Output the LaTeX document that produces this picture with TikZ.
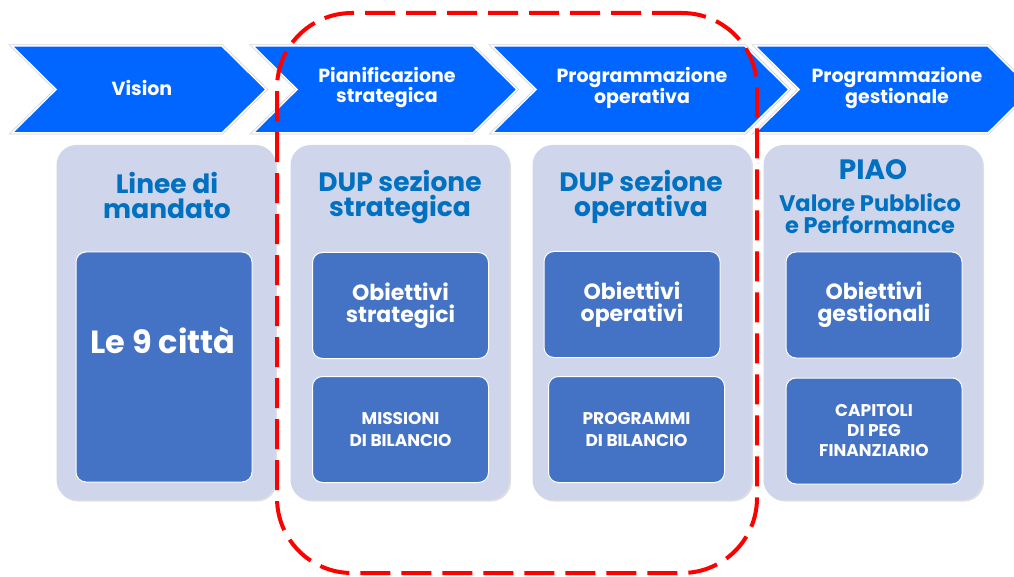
\documentclass[tikz,border=0pt]{standalone}
\usepackage{fontspec}
\setmainfont{Poppins}
\usetikzlibrary{positioning, shadows}
\definecolor{ChevBlue}{RGB}{0,102,255}
\definecolor{CardLilac}{RGB}{207,213,234}
\definecolor{BoxBlue}{RGB}{68,114,196}
\definecolor{TitleBlue}{RGB}{0,112,192}
\definecolor{FrameRed}{RGB}{255,0,0}

\begin{document}
\begin{tikzpicture}[
          x=1pt, y=-1pt,
          chevron/.style={fill=ChevBlue, draw=white, line width=1.5pt, preaction={draw=black!18, line width=3pt}},
          chevtext/.style={text=white, align=center, font=\fontsize{19}{20}\selectfont\bfseries},
          card/.style={rectangle, fill=CardLilac, rounded corners=20pt, minimum width=219pt, minimum height=355pt, drop shadow={shadow xshift=1.5pt, shadow yshift=-1.5pt, opacity=0.25}},
          cardtitle/.style={text=TitleBlue, align=center, font=\fontsize{26.5}{25}\selectfont\bfseries},
          box/.style={rectangle, fill=BoxBlue, draw=white, line width=1pt, rounded corners=10pt, minimum width=176pt, minimum height=106pt, text=white, align=center, font=\fontsize{22}{22}\selectfont\bfseries},
          capsbox/.style={box, font=\fontsize{17}{22}\selectfont\bfseries},
          redframe/.style={rectangle, draw=FrameRed, line width=4pt, dash pattern=on 30pt off 11pt, rounded corners=75pt, minimum width=480pt, minimum height=560pt}
        ]
          \useasboundingbox (0,0) rectangle (1014,577);
          \clip (0,0) rectangle (1014,577);

          % phases
          \fill[chevron] (12,46) -- (222,46) -- (266,89.5) -- (222,133) -- (12,133) -- (56,89.5) -- cycle;
          \fill[chevron] (253,46) -- (473,46) -- (517,89.5) -- (473,133) -- (253,133) -- (297,89.5) -- cycle;
          \fill[chevron] (492,46) -- (745,46) -- (789,89.5) -- (745,133) -- (492,133) -- (536,89.5) -- cycle;
          \fill[chevron] (755,46) -- (988,46) -- (1032,89.5) -- (988,133) -- (755,133) -- (799,89.5) -- cycle;

          \node (vision) [chevtext] at (142,88) {Vision};
          \node (pianif) [chevtext] at (387,88) {Pianificazione\\strategica};
          \node (progop) [chevtext] at (642,88) {Programmazione\\operativa};
          \node (progest) [chevtext] at (897,88) {Programmazione\\gestionale};

          % documents
          \node (mandato) [card] at (166,322.5) {};
          \node (dupstr) [card] at (400,322.5) {};
          \node (dupop) [card] at (642,322.5) {};
          \node (piao) [card] at (873,322.5) {};

          \node (mandatotitle) [cardtitle] at (167,195) {Linee di\\mandato};
          \node (dupstrtitle) [cardtitle] at (400,197) {DUP sezione\\strategica};
          \node (dupoptitle) [cardtitle] at (641,197) {DUP sezione\\operativa};
          \node (piaotitle) [cardtitle, font=\fontsize{28}{28}\selectfont\bfseries] at (873,170) {PIAO};
          \node (piaosub) [cardtitle, font=\fontsize{22.5}{22}\selectfont\bfseries] at (870,214) {Valore Pubblico\\e Performance};

          % contents
          \node (citta) [box, minimum height=230pt] at (164,367) {};
          \node (cittatext) [text=white, font=\fontsize{32}{34}\selectfont\bfseries] at (163,340) {Le 9 città};

          \node (objstr) [box] at (400.5,305.5) {Obiettivi\\strategici};
          \node (missioni) [capsbox, below=17pt of objstr] {MISSIONI\\DI BILANCIO};

          \node (objop) [box] at (632,304.5) {Obiettivi\\operativi};
          \node (programmi) [capsbox] at (636.5,429.5) {PROGRAMMI\\DI BILANCIO};

          \node (objgest) [box] at (874,305) {Obiettivi\\gestionali};
          \node (capitoli) [capsbox, below=19pt of objgest, font=\fontsize{17}{20}\selectfont\bfseries] {CAPITOLI\\DI PEG\\FINANZIARIO};

          \node (focus) [redframe] at (517,293) {};
        \end{tikzpicture}
\end{document}
